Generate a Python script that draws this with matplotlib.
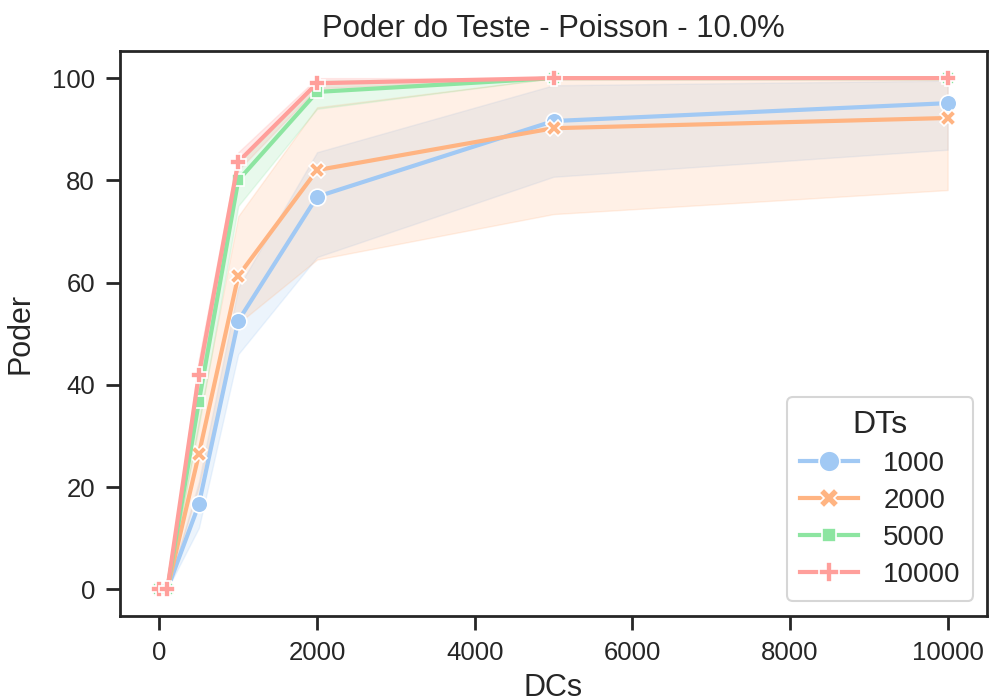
import matplotlib
matplotlib.use("Agg")
import matplotlib.pyplot as plt
import numpy as np

plt.rcParams['font.family'] = ['Liberation Sans', 'DejaVu Sans']

dcs = [0, 100, 500, 1000, 2000, 5000, 10000]
dts = ["1000", "2000", "5000", "10000"]

mean_1000 = [0, 0, 16.6, 52.5, 76.8, 91.6, 95.1]
low_1000 = [0, 0, 12, 46, 65, 80.7, 86]
high_1000 = [0, 0, 21, 59, 85.5, 98.6, 99.5]

mean_2000 = [0, 0, 26.4, 61.3, 82.0, 90.2, 92.2]
low_2000 = [0, 0, 20, 52, 64.5, 73.4, 78.1]
high_2000 = [0, 0, 33, 73, 94.3, 100, 100]

mean_5000 = [0, 0, 36.7, 80.0, 97.3, 100, 100]
low_5000 = [0, 0, 32, 75, 94, 100, 100]
high_5000 = [0, 0, 41, 84, 99.5, 100, 100]

mean_10000 = [0, 0, 42.0, 83.6, 99.0, 100, 100]
low_10000 = [0, 0, 39, 82, 98, 100, 100]
high_10000 = [0, 0, 45, 85.5, 100, 100, 100]

means = [mean_1000, mean_2000, mean_5000, mean_10000]
lows = [low_1000, low_2000, low_5000, low_10000]
highs = [high_1000, high_2000, high_5000, high_10000]

colors = ['#a1c9f4', '#ffb482', '#8de5a1', '#ff9f9b']
markers = ['o', 'X', (4, 0, 45), 'P']

fig = plt.figure(figsize=(9.92, 6.99), dpi=100)
ax = fig.add_axes([0.121, 0.119, 0.874, 0.808])

x = np.array(dcs)
for i, lab in enumerate(dts):
    ax.fill_between(x, lows[i], highs[i], color=colors[i], alpha=0.2, linewidth=1)
    ax.plot(x, means[i], color=colors[i], lw=3.0, marker=markers[i],
            markersize=12, markeredgecolor='white', markeredgewidth=1.2, label=lab)

ax.set_xlim(-500, 10500)
ax.set_ylim(-5.2, 105.3)
ax.set_xticks([0, 2000, 4000, 6000, 8000, 10000])
ax.set_yticks([0, 20, 40, 60, 80, 100])

for s in ax.spines.values():
    s.set_linewidth(2.0)
    s.set_color('#262626')
ax.tick_params(axis='both', which='major', length=10, width=2.0, color='#262626',
               labelsize=18.5, labelcolor='#262626', pad=8)

ax.set_xlabel('DCs', fontsize=22, color='#262626', labelpad=6)
ax.set_ylabel('Poder', fontsize=22, color='#262626', labelpad=12)
ax.set_title('Poder do Teste - Poisson - 10.0%', fontsize=22.4, color='#262626', pad=10)

leg = ax.legend(title='DTs', loc='lower right', fontsize=20, title_fontsize=23,
                frameon=True, fancybox=True, borderpad=0.45, handlelength=2.1,
                handletextpad=0.9, labelspacing=0.4, markerscale=1.25,
                borderaxespad=0.0, bbox_to_anchor=(0.984, 0.027))
leg.get_frame().set_edgecolor('#cccccc')
leg.get_frame().set_linewidth(1.5)
for t in leg.get_texts():
    t.set_color('#262626')
leg.get_title().set_color('#262626')

fig.savefig('out.png', dpi=100)
